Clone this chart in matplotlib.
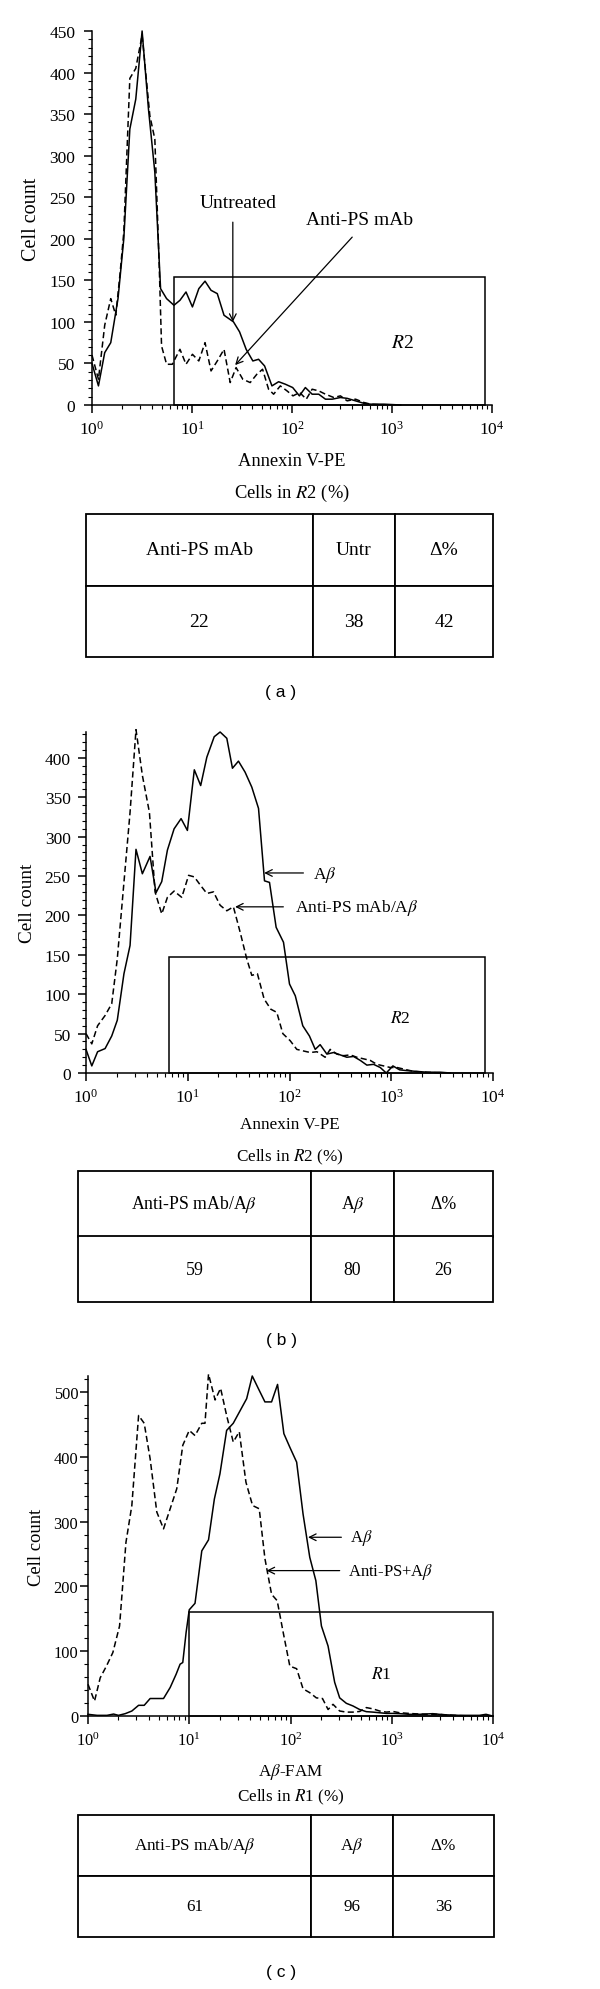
import matplotlib
matplotlib.use("Agg")
import matplotlib.pyplot as plt
from matplotlib.ticker import MultipleLocator, LogLocator, LogFormatterSciNotation, NullFormatter
from matplotlib.patches import Rectangle

plt.rcParams['font.family'] = ['Liberation Serif', 'DejaVu Serif']
plt.rcParams['mathtext.fontset'] = 'stix'

# ---- panel (a): Annexin V-PE, untreated vs anti-PS mAb ----
a_untr_x = [1.00, 1.16, 1.34, 1.54, 1.82, 2.08, 2.39, 2.74, 3.17, 3.67, 4.25, 4.85, 5.57, 6.60, 7.58,
            8.71, 10.1, 11.7, 13.5, 15.5, 17.9, 20.9, 26.0, 29.9, 34.8, 40.6, 46.3, 53.2, 63.0, 73.5,
            85.8, 101.6, 118.6, 136, 159, 185, 216, 252, 305, 356, 432, 524, 611, 831, 1222]
a_untr_y = [50, 23, 63, 75, 128, 200, 332, 368, 450, 356, 280, 140, 128, 120, 126,
            136, 118, 140, 149, 138, 134, 108, 100, 88, 67, 53, 55, 47, 23, 28,
            25, 21, 11, 21, 13, 13, 7, 7, 9, 8, 5, 2, 1, 1, 0]
a_mab_x = [1.00, 1.16, 1.34, 1.54, 1.73, 1.90, 2.08, 2.39, 2.74, 3.17, 3.79, 4.25, 4.70, 4.96, 5.57,
           6.35, 7.58, 8.71, 10.1, 11.7, 13.5, 15.5, 17.9, 20.9, 24.1, 27.6, 32.2, 38.2, 44.5, 50.8,
           58.3, 65.5, 76.4, 89.1, 102.3, 119.4, 139, 159, 185, 216, 262, 305, 356, 432, 524, 611, 831]
a_mab_y = [60, 31, 96, 128, 108, 156, 208, 393, 405, 445, 348, 320, 168, 71, 49,
           49, 67, 49, 61, 53, 75, 41, 53, 67, 27, 45, 31, 27, 37, 43,
           19, 13, 23, 17, 11, 15, 7, 19, 17, 13, 9, 11, 5, 7, 3, 1, 0]
a_gate = (6.6, 8570, 154)
a_cols = ['Anti-PS mAb', 'Untr', 'Δ%']
a_vals = ['22', '38', '42']

# ---- panel (b): Annexin V-PE, Abeta vs anti-PS mAb/Abeta ----
b_ab_x = [1.00, 1.14, 1.30, 1.54, 1.79, 2.03, 2.36, 2.71, 3.10, 3.58, 4.26, 4.88, 5.55, 6.31, 7.34,
          8.60, 9.92, 11.6, 13.4, 15.4, 18.2, 20.8, 24.2, 27.5, 31.5, 36.6, 42.6, 49.6, 56.8, 63.6,
          73.9, 87.3, 100, 114, 135, 157, 179, 200, 233, 271, 315, 366, 426, 496, 576,
          670, 779, 893, 1038, 1208, 1426, 1787, 2244, 3034, 3805]
b_ab_y = [30, 9, 27, 31, 47, 67, 126, 162, 284, 253, 275, 229, 243, 283, 310,
          323, 308, 385, 365, 401, 427, 433, 425, 387, 396, 382, 363, 336, 244, 242,
          185, 166, 113, 98, 60, 47, 30, 36, 24, 26, 23, 20, 21, 16, 10,
          11, 7, 0, 9, 4, 3, 2, 1, 1, 0]
b_mab_x = [1.00, 1.14, 1.30, 1.54, 1.79, 2.03, 2.36, 2.71, 3.10, 3.58, 4.20, 4.77, 5.55, 6.31, 7.34,
           8.73, 10.2, 11.6, 13.4, 15.4, 17.9, 20.8, 24.2, 28.1, 32.7, 38.0, 42.6, 48.4, 56.3, 65.5,
           75.0, 86.0, 101.6, 118, 137, 160, 186, 224, 251, 292, 340, 395, 459, 534, 621,
           722, 841, 977, 1137, 1322, 1660, 2244, 3034]
b_mab_y = [50, 37, 60, 73, 88, 145, 242, 331, 436, 378, 331, 230, 202, 223, 231,
           223, 251, 249, 238, 228, 230, 213, 206, 211, 179, 145, 124, 126, 94, 81,
           77, 50, 41, 30, 28, 26, 27, 20, 30, 24, 22, 23, 20, 18, 16,
           11, 9, 7, 7, 5, 2, 1, 0]
b_gate = (6.6, 8410, 147)
b_cols = ['Anti-PS mAb/A$\\beta$', 'A$\\beta$', 'Δ%']
b_vals = ['59', '80', '26']

# ---- panel (c): Abeta-FAM uptake ----
c_ab_x = [1.00, 1.23, 1.54, 1.79, 2.00, 2.33, 2.71, 3.16, 3.59, 4.11, 4.78, 5.57, 6.48, 7.42, 8.12,
          8.63, 9.31, 10.0, 11.4, 13.3, 15.5, 17.7, 20.1, 23.4, 27.2, 36.9, 41.9, 48.0, 55.9, 65.0,
          74.5, 86.0, 98.5, 115, 133, 155, 178, 202, 235, 273, 306, 356, 414, 482, 561,
          652, 759, 883, 1027, 1195, 1499, 1880, 2545, 3193, 4660, 7335, 8531, 9924]
c_ab_y = [2.6, 1, 1, 3, 1, 3.6, 7.7, 16.5, 16.5, 27, 27, 27, 44, 64.5, 80,
          82.6, 129, 164, 174, 255, 272, 335, 374, 441, 452, 490, 525, 506, 485, 485,
          512, 436, 415, 392, 312, 245, 209, 139, 108, 52, 28, 19.6, 15.5, 10, 6.7,
          6, 5, 4, 4, 3.6, 2.6, 2.6, 3.6, 2, 1, 1, 2.6, 0]
c_ps_x = [1.00, 1.16, 1.32, 1.52, 1.76, 2.05, 2.37, 2.71, 3.16, 3.59, 4.11, 4.78, 5.57, 6.48, 7.53,
          8.63, 10.0, 11.4, 13.3, 14.3, 15.5, 18.0, 20.4, 23.4, 27.2, 31.2, 36.3, 42.2, 49.1, 55.9,
          65.0, 73.9, 84.7, 98.5, 115, 133, 155, 180, 207, 235, 263, 306, 356, 414, 482,
          561, 652, 759, 883, 1027, 1195, 1617, 2188, 2960, 4006, 6303]
c_ps_y = [49, 23, 59, 77, 98, 139, 268, 325, 464, 452, 397, 315, 289, 320, 351,
          418, 441, 433, 452, 452, 528, 488, 506, 464, 423, 439, 361, 325, 320, 243,
          188, 178, 129, 77, 73, 42, 36, 28, 27, 10, 18, 7.7, 6, 6, 7,
          13, 11, 7.7, 6, 7, 5, 3.6, 2.6, 2.6, 1, 0]
c_gate = (10, 10000, 160)
c_cols = ['Anti-PS mAb/A$\\beta$', 'A$\\beta$', 'Δ%']
c_vals = ['61', '96', '36']

W, H = 600, 1990
fig = plt.figure(figsize=(6, 19.9), dpi=100)
fig.patch.set_facecolor('white')


def frame(px_l, px_r, py_top, py_bot):
    return [px_l / W, 1 - py_bot / H, (px_r - px_l) / W, (py_bot - py_top) / H]


def hist_axes(rect, ymax, major, minor, fs_tick, fs_lab, ypad):
    ax = fig.add_axes(rect)
    ax.set_xscale('log')
    ax.set_xlim(1, 1e4)
    ax.set_ylim(0, ymax)
    for s in ('top', 'right'):
        ax.spines[s].set_visible(False)
    for s in ('left', 'bottom'):
        ax.spines[s].set_linewidth(1.1)
    ax.yaxis.set_major_locator(MultipleLocator(major))
    ax.yaxis.set_minor_locator(MultipleLocator(minor))
    ax.xaxis.set_major_locator(LogLocator(base=10))
    ax.xaxis.set_major_formatter(LogFormatterSciNotation())
    ax.xaxis.set_minor_locator(LogLocator(base=10, subs=range(2, 10)))
    ax.xaxis.set_minor_formatter(NullFormatter())
    ax.tick_params(which='major', direction='out', length=6, width=1.1, labelsize=fs_tick)
    ax.tick_params(which='minor', direction='out', length=3, width=0.8)
    ax.tick_params(axis='y', which='major', pad=ypad)
    ax.tick_params(axis='x', which='major', pad=5)
    ax.set_ylabel('Cell count', fontsize=fs_lab, labelpad=6)
    return ax


def curves(ax, xs, ys, xd, yd, gate):
    ax.plot(xs, ys, color='black', lw=1.1, clip_on=False)
    ax.plot(xd, yd, color='black', lw=1.1, ls=(0, (4, 2.2)), clip_on=False)
    g0, g1, gh = gate
    ax.add_patch(Rectangle((g0, 0), g1 - g0, gh, fill=False, ec='black', lw=1.1, clip_on=False))


def table(rect, cols, vals, widths, fs):
    tax = fig.add_axes(rect)
    tax.axis('off')
    tb = tax.table(cellText=[cols, vals], colWidths=widths, cellLoc='center', bbox=[0, 0, 1, 1])
    tb.auto_set_font_size(False)
    for cell in tb.get_celld().values():
        cell.set_linewidth(1.3)
        cell.set_edgecolor('black')
        cell.get_text().set_fontsize(fs)
    return tb


def label(px, py, txt, fs, **kw):
    fig.text(px / W, 1 - py / H, txt, fontsize=fs, ha='center', va='center', **kw)


arrow = dict(arrowstyle='->', color='black', lw=0.9, shrinkA=0, shrinkB=0, mutation_scale=12)

# panel a
ax = hist_axes(frame(92, 492, 32, 406), 450, 50, 10, 12.5, 14.5, 6)
curves(ax, a_untr_x, a_untr_y, a_mab_x, a_mab_y, a_gate)
ax.text(1270, 75, '$R$2', fontsize=14, ha='center', va='center')
ax.text(28.7, 244, 'Untreated', fontsize=14, ha='center', va='center')
ax.annotate('', xy=(25.6, 100), xytext=(25.6, 220), arrowprops=arrow)
ax.text(478, 223, 'Anti-PS mAb', fontsize=14, ha='center', va='center')
ax.annotate('', xy=(27.0, 48), xytext=(400, 202), arrowprops=arrow)
label(292, 462, 'Annexin V-PE', 13.3)
label(292, 493, 'Cells in $R$2 (%)', 13.3)
table(frame(86, 493, 515, 658), a_cols, a_vals, [227, 82, 98], 14)
label(281, 693, '( a )', 12.5, family=['Liberation Sans', 'DejaVu Sans'])

# panel b
ax = hist_axes(frame(86, 493, 733, 1074), 433, 50, 10, 12.5, 13.9, 5)
curves(ax, b_ab_x, b_ab_y, b_mab_x, b_mab_y, b_gate)
ax.text(1227, 70, '$R$2', fontsize=12.5, ha='center', va='center')
ax.text(172, 253, 'A$\\beta$', fontsize=12.5, ha='left', va='center')
ax.annotate('', xy=(56.4, 254), xytext=(137, 254), arrowprops=arrow)
ax.text(114, 211, 'Anti-PS mAb/A$\\beta$', fontsize=12.5, ha='left', va='center')
ax.annotate('', xy=(29.2, 211), xytext=(87, 211), arrowprops=arrow)
label(289.5, 1125, 'Annexin V-PE', 12.3)
label(289.5, 1157, 'Cells in $R$2 (%)', 12.3)
table(frame(78, 493, 1172, 1303), b_cols, b_vals, [233, 83, 99], 12.8)
label(281, 1340, '( b )', 12.5, family=['Liberation Sans', 'DejaVu Sans'])

# panel c
ax = hist_axes(frame(88, 493, 1377, 1717), 525, 100, 20, 11.8, 13.4, 1)
curves(ax, c_ab_x, c_ab_y, c_ps_x, c_ps_y, c_gate)
ax.text(789, 64.5, '$R$1', fontsize=12.5, ha='center', va='center')
ax.text(384, 276, 'A$\\beta$', fontsize=12, ha='left', va='center')
ax.annotate('', xy=(149, 276), xytext=(318, 276), arrowprops=arrow)
ax.text(370, 224.5, 'Anti-PS+A$\\beta$', fontsize=12, ha='left', va='center')
ax.annotate('', xy=(58, 224.5), xytext=(306, 224.5), arrowprops=arrow)
label(290.5, 1772, 'A$\\beta$-FAM', 12.3)
label(290.5, 1797, 'Cells in $R$1 (%)', 12.3)
table(frame(78, 494, 1816, 1938), c_cols, c_vals, [233, 82, 101], 12.3)
label(281, 1973, '( c )', 12.5, family=['Liberation Sans', 'DejaVu Sans'])

fig.savefig('out.png', dpi=100, facecolor='white')
